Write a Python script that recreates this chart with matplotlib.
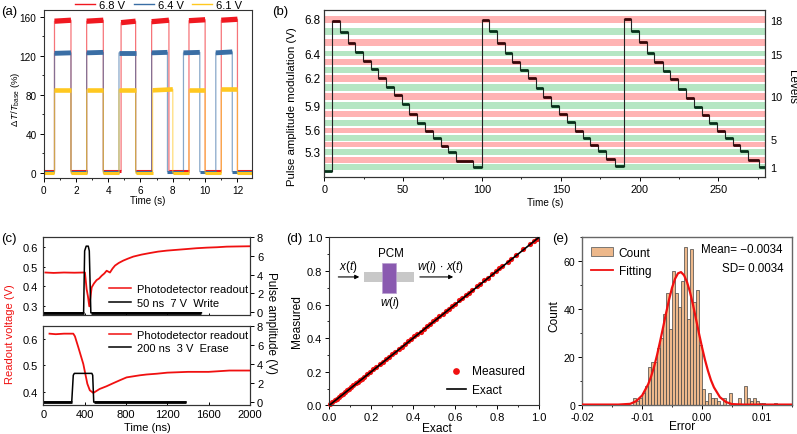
import matplotlib
matplotlib.use("Agg")
import matplotlib.pyplot as plt
from matplotlib.lines import Line2D
from matplotlib.patches import Patch, Rectangle
from matplotlib.ticker import MultipleLocator

plt.rcParams['font.family'] = ['Liberation Sans', 'DejaVu Sans']
plt.rcParams['font.size'] = 8
plt.rcParams['mathtext.fontset'] = 'custom'
plt.rcParams['mathtext.rm'] = 'Liberation Sans'
plt.rcParams['mathtext.it'] = 'Liberation Sans:italic'
plt.rcParams['axes.linewidth'] = 0.8
plt.rcParams['axes.edgecolor'] = '#333333'
plt.rcParams['xtick.major.size'] = 3
plt.rcParams['ytick.major.size'] = 3
plt.rcParams['xtick.minor.size'] = 1.6
plt.rcParams['ytick.minor.size'] = 1.6
plt.rcParams['xtick.major.width'] = 0.7
plt.rcParams['ytick.major.width'] = 0.7
plt.rcParams['xtick.minor.width'] = 0.6
plt.rcParams['ytick.minor.width'] = 0.6
plt.rcParams['xtick.major.pad'] = 2
plt.rcParams['ytick.major.pad'] = 2

W, H = 797, 435

# (a) pulse trains
red_rise = [0.68, 2.67, 4.80, 6.69, 9.00, 11.00]
red_fall = [1.70, 3.70, 5.70, 7.76, 10.00, 12.00]
red_start = [155.5, 155.5, 154, 155, 156, 156.5]
red_end = [156.5, 156.5, 155.5, 156.5, 157, 157.5]
blue_rise = [0.68, 2.67, 4.67, 6.69, 8.66, 10.66]
blue_fall = [1.70, 3.70, 5.70, 7.67, 9.67, 11.68]
blue_start = [122.5, 123, 123, 123, 123, 123]
blue_end = [123, 123.5, 123, 123.5, 123.5, 124]
yellow_rise = [0.68, 2.67, 4.67, 6.75, 9.00, 11.00]
yellow_fall = [1.70, 3.70, 5.70, 8.00, 10.00, 12.00]
yellow_start = [85, 85, 85, 84.5, 85, 85.5]
yellow_end = [85, 85, 85, 85.5, 85, 85.5]

# (b) bands and level traces, in level units
band_low = [0.69, 1.50, 2.46, 3.35, 4.00, 4.96, 5.77, 6.77, 7.69, 8.77, 9.81, 10.88, 11.88, 12.85, 13.81, 15.00, 16.27, 17.65]
band_high = [1.38, 2.23, 3.15, 3.88, 4.69, 5.50, 6.50, 7.46, 8.58, 9.58, 10.62, 11.62, 12.58, 13.50, 14.42, 15.81, 17.04, 18.42]
volt_pos = [18.12, 14.15, 11.31, 8.19, 5.31, 2.85]
volt_labels = ['6.8', '6.4', '6.2', '5.9', '5.6', '5.3']
level_pos = [18.04, 14.08, 9.27, 4.27, 1.0]
level_labels = ['18', '15', '10', '5', '1']

first_time = [0, 5]
first_level = [0.62, 0.62]
cycle1_time = [5, 9.9, 14.8, 19.7, 24.6, 29.4, 34.2, 39.3, 44.2, 49, 53.9, 59, 63.8, 68.7, 73.8, 78.6, 83.5, 94.5, 99.8]
cycle1_level = [17.88, 16.58, 15.38, 14.27, 13.23, 12.35, 11.35, 10.27, 9.35, 8.31, 7.19, 6.15, 5.23, 4.35, 3.46, 2.77, 1.69, 1.0]
cycle2_time = [99.8, 104.6, 109.5, 114.4, 119.2, 124.1, 129, 134.1, 139, 143.8, 148.9, 153.8, 158.7, 163.8, 168.6, 173.5, 178.6, 184.3, 189.8]
cycle2_level = [18.04, 16.77, 15.38, 14.19, 13.12, 12.23, 11.27, 10.12, 9.08, 8.12, 7.15, 6.19, 5.23, 4.42, 3.58, 2.92, 1.96, 1.19]
cycle3_time = [189.8, 194.6, 199.7, 204.6, 209.4, 214.5, 219.4, 224.3, 229.3, 234.2, 239.3, 244.1, 249, 254.1, 259, 263.9, 269, 275.4, 279.5]
cycle3_level = [18.12, 16.77, 15.46, 14.19, 13.12, 12.15, 11.15, 10.04, 9.0, 7.96, 7.08, 6.08, 5.19, 4.35, 3.58, 2.88, 1.81, 1.0]

# (c) transient readouts
write_t = [20, 100, 200, 300, 390, 403, 419, 432, 445, 455, 468, 490, 516, 540, 565, 590, 613, 645, 670, 694, 730, 774, 820, 871, 950, 1032, 1110, 1194, 1290, 1387, 1480, 1581, 1680, 1774, 1880, 2000]
write_v = [0.47, 0.468, 0.47, 0.469, 0.47, 0.47, 0.387, 0.35, 0.30, 0.34, 0.395, 0.415, 0.432, 0.44, 0.454, 0.465, 0.479, 0.47, 0.49, 0.505, 0.518, 0.53, 0.54, 0.55, 0.56, 0.568, 0.575, 0.58, 0.584, 0.588, 0.592, 0.595, 0.597, 0.60, 0.601, 0.602]
write_pulse_t = [0, 390, 400, 415, 435, 445, 460, 1530]
write_pulse_a = [-0.05, -0.05, 6.5, 7.0, 7.0, 6.5, -0.05, -0.05]
erase_t = [60, 120, 200, 290, 306, 339, 387, 426, 450, 484, 545, 610, 677, 740, 806, 870, 935, 1000, 1100, 1200, 1400, 1600, 1800, 2000]
erase_v = [0.62, 0.618, 0.62, 0.62, 0.61, 0.568, 0.505, 0.43, 0.405, 0.395, 0.41, 0.42, 0.432, 0.443, 0.454, 0.458, 0.462, 0.465, 0.468, 0.472, 0.475, 0.475, 0.48, 0.48]
erase_pulse_t = [0, 275, 290, 300, 470, 478, 488, 1380]
erase_pulse_a = [-0.05, -0.05, 2.8, 3.0, 3.0, 2.8, -0.05, -0.05]

# (d) measured vs exact
exact = [0.005, 0.015, 0.025, 0.035, 0.045, 0.055, 0.065, 0.075, 0.085, 0.095, 0.105, 0.115, 0.125, 0.135, 0.145, 0.155, 0.165, 0.18, 0.195, 0.21, 0.225, 0.24, 0.255, 0.27, 0.285, 0.30, 0.315, 0.33, 0.345, 0.36, 0.375, 0.39, 0.405, 0.42, 0.435, 0.45, 0.465, 0.48, 0.495, 0.51, 0.525, 0.54, 0.555, 0.57, 0.585, 0.60, 0.62, 0.635, 0.65, 0.665, 0.68, 0.705, 0.72, 0.74, 0.755, 0.775, 0.795, 0.81, 0.825, 0.85, 0.865, 0.89, 0.925, 0.955, 0.975, 0.99]
measured = [0.008, 0.019, 0.029, 0.039, 0.049, 0.059, 0.069, 0.080, 0.089, 0.100, 0.110, 0.119, 0.130, 0.140, 0.150, 0.159, 0.170, 0.185, 0.199, 0.215, 0.230, 0.244, 0.260, 0.275, 0.290, 0.304, 0.320, 0.335, 0.349, 0.365, 0.380, 0.394, 0.410, 0.425, 0.439, 0.455, 0.470, 0.484, 0.500, 0.515, 0.530, 0.544, 0.560, 0.575, 0.589, 0.605, 0.625, 0.640, 0.654, 0.670, 0.684, 0.710, 0.725, 0.744, 0.760, 0.780, 0.799, 0.815, 0.830, 0.855, 0.870, 0.893, 0.928, 0.958, 0.978, 0.992]
line_x = [0, 1]
line_y = [0, 1]

# (e) histogram and fitted curve
bin_first = -0.01125
bin_width = 0.0005
counts = [3, 2, 3, 5, 8, 16, 18, 18, 24, 28, 38, 47, 32, 56, 47, 41, 52, 66, 36, 65, 43, 48, 25, 7, 2, 5, 3, 3, 2, 0, 3, 0, 5, 0, 0, 3, 0, 8, 3, 2, 3, 2, 1, 1, 0, 0, 0, 1]
fit_x = [-0.02, -0.014, -0.012, -0.011, -0.010, -0.009, -0.0085, -0.008, -0.0075, -0.007, -0.0065, -0.006, -0.0055, -0.005, -0.0045, -0.004, -0.0035, -0.003, -0.0025, -0.002, -0.0015, -0.001, -0.0005, 0.0, 0.0005, 0.001, 0.0015, 0.002, 0.003, 0.004, 0.005, 0.007, 0.015]
fit_y = [0.3, 0.3, 0.6, 1.7, 4.1, 8.7, 12, 16.1, 21, 26.6, 32.4, 38.4, 44, 49, 52.7, 55, 55.5, 54.2, 51.4, 47.2, 41.9, 36, 30, 24.3, 19, 14.4, 10.5, 7.5, 3.4, 1.4, 0.5, 0.3, 0.3]


def make_axes(left, top, right, bottom):
    return fig.add_axes([left / W, 1 - bottom / H, (right - left) / W, (bottom - top) / H])


def pix_text(x, y, s, **kw):
    kw.setdefault('ha', 'center')
    kw.setdefault('va', 'center')
    fig.text(x / W, 1 - y / H, s, **kw)


def draw_pulses(ax, rises, falls, starts, ends, base, color, top_lw):
    t = [0]
    y = [base]
    for r, f, s, e in zip(rises, falls, starts, ends):
        t += [r, r, f, f]
        y += [base, s, e, base]
    t.append(12.9)
    y.append(base)
    ax.plot(t, y, color=color, lw=0.9, alpha=0.6)
    # plateaus and baselines look thick because of the noise
    last = 0
    for r, f, s, e in zip(rises, falls, starts, ends):
        ax.plot([r, f], [s, e], color=color, lw=top_lw, solid_capstyle='butt')
        ax.plot([last, r], [base, base], color=color, lw=2.2, solid_capstyle='butt')
        last = f
    ax.plot([last, 12.9], [base, base], color=color, lw=2.2, solid_capstyle='butt')


fig = plt.figure(figsize=(W / 100, H / 100), dpi=100)

# panel a
ax_a = make_axes(43.5, 11, 252, 179)
draw_pulses(ax_a, red_rise, red_fall, red_start, red_end, 2, '#F01820', 3.8)
draw_pulses(ax_a, blue_rise, blue_fall, blue_start, blue_end, 1, '#3A6EA5', 3.5)
draw_pulses(ax_a, yellow_rise, yellow_fall, yellow_start, yellow_end, -0.5, '#FFC820', 3.3)
ax_a.set_xlim(0, 12.9)
ax_a.set_ylim(-5.5, 167)
ax_a.xaxis.set_major_locator(MultipleLocator(2))
ax_a.xaxis.set_minor_locator(MultipleLocator(1))
ax_a.yaxis.set_major_locator(MultipleLocator(40))
ax_a.yaxis.set_minor_locator(MultipleLocator(20))
ax_a.tick_params(labelsize=7.2)
handles_a = [Line2D([], [], color='#F01820', lw=1), Line2D([], [], color='#3A6EA5', lw=1), Line2D([], [], color='#FFC820', lw=1)]
ax_a.legend(handles_a, ['6.8 V', '6.4 V', '6.1 V'], ncol=3, frameon=False, loc='lower left',
            bbox_to_anchor=(0.151, 1.0), handlelength=1.8, handletextpad=0.35, columnspacing=0.8,
            borderpad=0, borderaxespad=0, fontsize=8)

# panel b
ax_b = make_axes(324.3, 10.7, 765, 177.7)
for i in range(len(band_low)):
    c = '#FFB3B3' if i % 2 == 1 else '#B5E6C3'
    ax_b.axhspan(band_low[i], band_high[i], color=c, lw=0, zorder=1)
ax_b.plot(first_time, first_level, color='#05331A', lw=2.0, solid_capstyle='butt', zorder=3)
for times, levels in [(cycle1_time, cycle1_level), (cycle2_time, cycle2_level), (cycle3_time, cycle3_level)]:
    # thin connector through the steps
    tt = []
    yy = []
    for i in range(len(levels)):
        tt += [times[i], times[i + 1]]
        yy += [levels[i], levels[i]]
    ax_b.plot(tt, yy, color='#222222', lw=0.8, zorder=2)
    for i in range(len(levels)):
        # level 18 is red, level 1 is green
        c = '#05331A' if i % 2 == 1 else '#3A0508'
        ax_b.plot([times[i], times[i + 1]], [levels[i], levels[i]], color=c, lw=2.0,
                  solid_capstyle='butt', zorder=3)
ax_b.plot([first_time[1], cycle1_time[0]], [first_level[1], cycle1_level[0]], color='#222222', lw=0.8, zorder=2)
ax_b.plot([cycle1_time[-1], cycle2_time[0]], [cycle1_level[-1], cycle2_level[0]], color='#222222', lw=0.8, zorder=2)
ax_b.plot([cycle2_time[-1], cycle3_time[0]], [cycle2_level[-1], cycle3_level[0]], color='#222222', lw=0.8, zorder=2)
ax_b.set_xlim(0, 279.5)
ax_b.set_ylim(-0.08, 19.19)
ax_b.xaxis.set_major_locator(MultipleLocator(50))
ax_b.xaxis.set_minor_locator(MultipleLocator(25))
ax_b.tick_params(axis='x', labelsize=7.8)
ax_b.set_yticks(volt_pos)
ax_b.set_yticklabels(volt_labels, fontsize=8.4)
ax_b.tick_params(axis='y', length=0, pad=3)
ax_b2 = ax_b.twinx()
ax_b2.set_ylim(ax_b.get_ylim())
ax_b2.set_yticks(level_pos)
ax_b2.set_yticklabels(level_labels, fontsize=7.8)
ax_b2.tick_params(axis='y', length=0, pad=4)

# panel c
ax_c1 = make_axes(43.3, 237.7, 250, 315.7)
ax_c1.plot(write_t, write_v, color='#F01010', lw=1.3)
ax_c1.set_xlim(0, 2000)
ax_c1.set_ylim(0.258, 0.65)
ax_c1.set_yticks([0.3, 0.4, 0.5, 0.6])
ax_c1.xaxis.set_major_locator(MultipleLocator(400))
ax_c1.tick_params(axis='x', labelbottom=False, direction='in', length=1.6)
ax_c1.tick_params(axis='y', direction='in', length=1.6, pad=4)
ax_c1r = ax_c1.twinx()
ax_c1r.plot(write_pulse_t, write_pulse_a, color='black', lw=1.1)
ax_c1r.plot(write_pulse_t[:2], write_pulse_a[:2], color='black', lw=2.0, solid_capstyle='butt')
ax_c1r.plot(write_pulse_t[-2:], write_pulse_a[-2:], color='black', lw=2.0, solid_capstyle='butt')
ax_c1r.set_ylim(-0.25, 8)
ax_c1r.set_yticks([0, 2, 4, 6, 8])
handles_c = [Line2D([], [], color='#F01010', lw=1.1), Line2D([], [], color='black', lw=1.1)]
ax_c1r.legend(handles_c, ['Photodetector readout', '50 ns  7 V  Write'], frameon=False, loc='lower left',
              bbox_to_anchor=(0.32, 0.09), handlelength=1.9, handletextpad=0.55, labelspacing=0.3,
              borderpad=0, borderaxespad=0, fontsize=8)

ax_c2 = make_axes(43.3, 327.3, 250, 406.3)
ax_c2.plot(erase_t, erase_v, color='#F01010', lw=1.3)
ax_c2.set_xlim(0, 2000)
ax_c2.set_ylim(0.348, 0.648)
ax_c2.set_yticks([0.4, 0.5, 0.6])
ax_c2.xaxis.set_major_locator(MultipleLocator(400))
ax_c2.tick_params(axis='x', direction='in', length=2, pad=3)
ax_c2.tick_params(axis='y', direction='in', length=1.6, pad=4)
ax_c2r = ax_c2.twinx()
ax_c2r.plot(erase_pulse_t, erase_pulse_a, color='black', lw=1.1)
ax_c2r.plot(erase_pulse_t[:2], erase_pulse_a[:2], color='black', lw=2.0, solid_capstyle='butt')
ax_c2r.plot(erase_pulse_t[-2:], erase_pulse_a[-2:], color='black', lw=2.0, solid_capstyle='butt')
ax_c2r.set_ylim(-0.39, 8)
ax_c2r.set_yticks([0, 2, 4, 6, 8])
ax_c2r.legend(handles_c, ['Photodetector readout', '200 ns  3 V  Erase'], frameon=False, loc='upper left',
              bbox_to_anchor=(0.32, 0.955), handlelength=1.9, handletextpad=0.55, labelspacing=0.3,
              borderpad=0, borderaxespad=0, fontsize=8)

# panel d
ax_d = make_axes(329.3, 238.3, 539, 406.3)
pts = ax_d.scatter(exact, measured, s=14, color='#F01010', lw=0, zorder=2, clip_on=False, label='Measured')
ln, = ax_d.plot(line_x, line_y, color='black', lw=1.2, zorder=3, label='Exact')
ax_d.set_xlim(0, 1)
ax_d.set_ylim(0, 1)
ax_d.xaxis.set_major_locator(MultipleLocator(0.2))
ax_d.xaxis.set_minor_locator(MultipleLocator(0.1))
ax_d.yaxis.set_major_locator(MultipleLocator(0.2))
ax_d.yaxis.set_minor_locator(MultipleLocator(0.1))
ax_d.legend(frameon=False, loc='lower right', bbox_to_anchor=(0.935, 0.055), handlelength=1.6,
            handletextpad=0.55, labelspacing=0.55, borderpad=0, borderaxespad=0, fontsize=8.6, markerscale=1.3)
# device sketch
ax_d.add_patch(Rectangle((0.165, 0.736), 0.239, 0.056, color='#C8C8C8', lw=0, zorder=4))
ax_d.add_patch(Rectangle((0.253, 0.671), 0.065, 0.178, facecolor='#8A5AB0', edgecolor='#B9A0D0', lw=0.5, zorder=5))
ax_d.annotate('', xy=(0.143, 0.764), xytext=(0.043, 0.764),
              arrowprops=dict(arrowstyle='-|>', color='black', lw=0.8, mutation_scale=6, shrinkA=0, shrinkB=0))
ax_d.annotate('', xy=(0.591, 0.764), xytext=(0.432, 0.764),
              arrowprops=dict(arrowstyle='-|>', color='black', lw=0.8, mutation_scale=6, shrinkA=0, shrinkB=0))
ax_d.text(0.09, 0.83, r'$x(t)$', ha='center', va='center', fontsize=8.4)
ax_d.text(0.293, 0.905, 'PCM', ha='center', va='center', fontsize=8.4)
ax_d.text(0.29, 0.617, r'$w(i)$', ha='center', va='center', fontsize=8.4)
ax_d.text(0.53, 0.83, r'$w(i)\,\cdot\,x(t)$', ha='center', va='center', fontsize=8.4)

# panel e
centers = [bin_first + i * bin_width for i in range(len(counts))]
ax_e = make_axes(582.3, 238.3, 791.7, 406.3)
ax_e.bar(centers, counts, width=bin_width, color='#EDB88B', edgecolor='#444444', lw=0.5, zorder=2, label='Count')
ax_e.plot(fit_x, fit_y, color='#F01010', lw=1.6, zorder=3, label='Fitting')
ax_e.set_xlim(-0.02, 0.015)
ax_e.set_ylim(0, 70)
ax_e.set_xticks([-0.02, -0.01, 0.0, 0.01])
ax_e.set_xticklabels(['-0.02', '-0.01', '0.00', '0.01'])
ax_e.xaxis.set_minor_locator(MultipleLocator(0.005))
ax_e.yaxis.set_major_locator(MultipleLocator(20))
ax_e.yaxis.set_minor_locator(MultipleLocator(10))
ax_e.tick_params(labelsize=7.6)
for s in ax_e.spines.values():
    s.set_color('#666666')
    s.set_linewidth(1.0)
handles_e = [Patch(facecolor='#EDB88B', edgecolor='#666666', lw=0.6), Line2D([], [], color='#F01010', lw=1.3)]
ax_e.legend(handles_e, ['Count', 'Fitting'], frameon=False, loc='upper left', bbox_to_anchor=(0.04, 0.945),
            handlelength=1.85, handletextpad=0.5, labelspacing=0.55, borderpad=0, borderaxespad=0, fontsize=8.6)
ax_e.text(0.958, 0.93, 'Mean= \u22120.0034', transform=ax_e.transAxes, ha='right', va='center', fontsize=8.4)
ax_e.text(0.962, 0.818, 'SD= 0.0034', transform=ax_e.transAxes, ha='right', va='center', fontsize=8.4)

# labels, placed by pixel
pix_text(16, 99, r'$\Delta\,T/T_{\mathrm{base}}$ (%)', rotation=90, fontsize=6.8)
pix_text(148, 201, 'Time (s)', fontsize=7)
pix_text(292, 107, 'Pulse amplitude modulation (V)', rotation=90, fontsize=8.2)
pix_text(545, 203, 'Time (s)', fontsize=7.2)
pix_text(792, 87, 'Levels', rotation=270, fontsize=8.4)
pix_text(147, 428, 'Time (ns)')
pix_text(10, 334, 'Readout voltage (V)', rotation=90, color='#F01010', fontsize=8)
pix_text(271, 323, 'Pulse amplitude (V)', rotation=270, fontsize=8.4)
pix_text(297, 322, 'Measured', rotation=90, fontsize=8.6)
pix_text(437, 429, 'Exact', fontsize=8.6)
pix_text(554, 316, 'Count', rotation=90, fontsize=8.6)
pix_text(682, 427, 'Error', fontsize=8.6)
pix_text(9, 12, '(a)', fontsize=9.5)
pix_text(280, 12, '(b)', fontsize=9.5)
pix_text(9, 239, '(c)', fontsize=9.5)
pix_text(294, 239, '(d)', fontsize=9.5)
pix_text(560, 239, '(e)', fontsize=9.5)

fig.savefig('out.png', dpi=100)
